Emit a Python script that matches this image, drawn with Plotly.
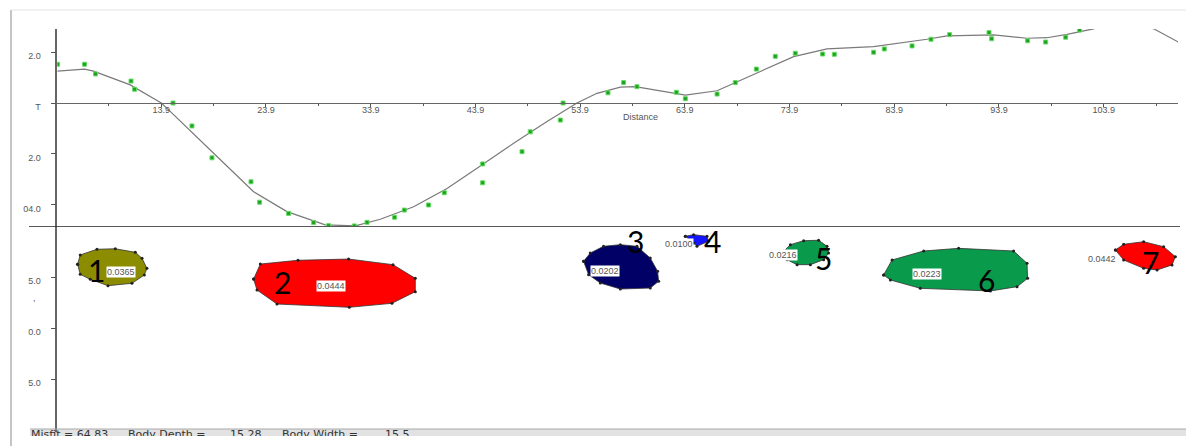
import plotly.graph_objects as go

# ---------------- data ----------------
obs_distance = [4.0, 6.57, 7.62, 11.01, 11.35, 15.02, 16.83, 18.74, 22.47, 23.29, 26.06, 28.45,
                29.88, 32.33, 33.55, 36.18, 37.11, 39.43, 40.93, 44.59, 44.59, 48.35, 49.14, 52.01,
                52.27, 56.56, 58.05, 59.33, 63.09, 63.95, 66.98, 68.72, 70.73, 72.54, 74.45, 77.06,
                78.18, 81.93, 82.95, 85.60, 87.41, 89.19, 92.95, 93.20, 96.64, 98.36, 100.27, 101.61]
obs_gravity = [1.52, 1.52, 1.14, 0.86, 0.54, 0.0, -0.90, -2.15, -3.09, -3.89, -4.33, -4.69,
               -4.81, -4.82, -4.68, -4.48, -4.20, -4.00, -3.52, -3.13, -2.39, -1.91, -1.13, -0.67,
               0.0, 0.40, 0.80, 0.64, 0.42, 0.17, 0.35, 0.80, 1.33, 1.83, 1.95, 1.92,
               1.91, 1.99, 2.12, 2.24, 2.50, 2.68, 2.76, 2.52, 2.44, 2.39, 2.58, 2.86]

calc_distance = [3.97, 6.57, 7.43, 10.94, 13.9, 14.60, 18.90, 22.72, 25.90, 29.56, 32.43, 34.82,
                 38.00, 41.19, 44.37, 47.55, 50.74, 53.60, 55.51, 57.74, 59.17, 63.95, 66.98, 68.72,
                 71.11, 74.29, 77.48, 81.93, 87.03, 88.94, 93.39, 96.58, 98.49, 100.40, 102.94,
                 105.78, 108.68, 111.16]
calc_gravity = [1.25, 1.33, 1.25, 0.71, 0.0, -0.27, -1.97, -3.48, -4.26, -4.78, -4.82, -4.56,
                -4.07, -3.35, -2.47, -1.58, -0.73, 0.0, 0.38, 0.62, 0.64, 0.31, 0.48, 0.80,
                1.25, 1.82, 2.12, 2.21, 2.50, 2.63, 2.67, 2.54, 2.56, 2.69, 2.91,
                3.25, 2.91, 2.36]

body_names = ["1", "2", "3", "4", "5", "6", "7"]
body_density = ["0.0365", "0.0444", "0.0202", "0.0100", "0.0216", "0.0223", "0.0442"]
body_distance = [
    [5.91, 6.16, 7.76, 9.51, 11.42, 12.06, 12.53, 12.28, 11.10, 8.81, 7.12, 6.16],
    [22.72, 23.36, 26.96, 31.79, 36.03, 38.16, 38.16, 35.93, 31.86, 24.95, 23.04],
    [54.23, 54.87, 56.14, 57.74, 59.33, 60.60, 61.30, 61.40, 60.60, 57.74, 55.83, 54.71],
    [63.95, 64.74, 66.02, 66.17, 65.06, 64.74],
    [73.34, 73.98, 75.25, 76.68, 77.48, 77.63, 77.16, 75.89, 74.62, 73.66],
    [82.89, 83.69, 86.71, 90.05, 95.30, 96.58, 96.64, 95.63, 93.08, 86.39, 83.53],
    [105.02, 105.81, 107.72, 109.63, 110.75, 110.43, 109.00, 107.72, 105.81],
]
body_depth = [
    [3.75, 2.84, 2.28, 2.23, 2.58, 3.17, 4.15, 4.80, 5.62, 5.85, 5.23, 4.74],
    [5.20, 3.73, 3.36, 3.24, 3.79, 5.13, 6.44, 7.58, 7.97, 7.65, 6.27],
    [3.46, 2.65, 1.99, 1.83, 1.99, 3.14, 4.44, 5.42, 6.08, 6.18, 5.59, 4.77],
    [1.01, 0.85, 1.01, 1.50, 1.99, 1.67],
    [2.48, 1.83, 1.44, 1.40, 1.99, 2.65, 3.30, 3.79, 3.79, 3.30],
    [4.80, 3.33, 2.45, 2.19, 2.45, 3.66, 5.13, 5.95, 6.37, 6.11, 5.29],
    [2.35, 1.79, 1.54, 2.03, 3.01, 3.82, 4.31, 4.15, 3.33],
]
# label anchor points (distance, depth)
name_pos_distance = [7.76, 25.43, 59.17, 66.50, 77.16, 92.70, 108.36]
name_pos_depth = [4.31, 5.46, 1.50, 1.50, 3.14, 5.29, 3.50]
dens_pos_distance = [10.05, 30.14, 56.31, 63.31, 73.28, 87.03, 103.75]
dens_pos_depth = [4.48, 5.85, 4.44, 1.74, 2.81, 4.74, 3.24]

x_tickvals = [13.9, 23.9, 33.9, 43.9, 53.9, 63.9, 73.9, 83.9, 93.9, 103.9]
x_ticktext = ["13.9", "23.9", "33.9", "43.9", "53.9", "63.9", "73.9", "83.9", "93.9", "103.9"]
x_minor = [8.9, 18.9, 28.9, 38.9, 48.9, 58.9, 68.9, 78.9, 88.9, 98.9, 108.9]
g_tickvals = [2.0, 0.0, -2.0, -4.0]
g_ticktext = ["2.0", "T", "2.0", "04.0"]
d_tickvals = [5.0, 10.0, 15.0]
d_ticktext = ["5.0", "0.0", "5.0"]

status_text = ["Misfit = 64.83", "Body Depth =", "15.28", "Body Width =", "15.5"]

# ---------------- styles ----------------
body_colors = ["#8c8c00", "#ff0000", "#000066", "#1414ff", "#0a9a4c", "#0a9a4c", "#ff0000"]
W, H = 1186, 446
TICKFONT = dict(family="Liberation Sans, Arial, sans-serif", size=9, color="#555555")

fig = go.Figure()

# bodies (lower panel)
for i in range(len(body_names)):
    fig.add_trace(go.Scatter(
        x=body_distance[i] + [body_distance[i][0]],
        y=body_depth[i] + [body_depth[i][0]],
        xaxis="x", yaxis="y2",
        mode="lines+markers", fill="toself", fillcolor=body_colors[i],
        line=dict(color="#333333", width=0.8),
        marker=dict(size=3, color="#222222"),
        hoverinfo="skip", showlegend=False,
    ))

# calculated gravity
fig.add_trace(go.Scatter(
    x=calc_distance, y=calc_gravity, xaxis="x", yaxis="y",
    mode="lines", line=dict(color="#7a7a7a", width=1.2),
    showlegend=False, hoverinfo="skip",
))
# observed gravity
fig.add_trace(go.Scatter(
    x=obs_distance, y=obs_gravity, xaxis="x", yaxis="y",
    mode="markers",
    marker=dict(symbol="square", size=4, color="#1f9f1f", line=dict(color="#66dd66", width=1)),
    showlegend=False, hoverinfo="skip", cliponaxis=True,
))

# status bar text (clipped by its own strip)
status_x = [31, 128, 230, 282, 385]
fig.add_trace(go.Scatter(
    x=status_x, y=[-435] * len(status_x), xaxis="x3", yaxis="y3",
    mode="text", text=status_text, textposition="middle right",
    textfont=dict(family="DejaVu Sans, sans-serif", size=11, color="#333333"),
    cliponaxis=True, showlegend=False, hoverinfo="skip",
))

# annotations
ann = []
for i in range(len(body_names)):
    ann.append(dict(x=name_pos_distance[i], y=name_pos_depth[i], xref="x", yref="y2",
                    text=body_names[i], showarrow=False,
                    font=dict(family="Lato, sans-serif", size=30, color="#000000")))
    ann.append(dict(x=dens_pos_distance[i], y=dens_pos_depth[i], xref="x", yref="y2",
                    text=body_density[i], showarrow=False, bgcolor="#ffffff", borderpad=0,
                    font=dict(family="Liberation Sans, Arial, sans-serif", size=9, color="#555555")))
ann.append(dict(x=59.65, y=-0.55, xref="x", yref="y", text="Distance", showarrow=False,
                font=TICKFONT))
ann.append(dict(x=31 / W, y=(H - 305) / H, xref="paper", yref="paper", text=",",
                showarrow=False, font=TICKFONT))

def py(p):
    return (H - p) / H

shapes = [
    # status bar background
    dict(type="rect", xref="paper", yref="paper", x0=30 / W, x1=1, y0=py(436), y1=py(429),
         fillcolor="#e2e2e2", line=dict(width=0), layer="below"),
    dict(type="line", xref="paper", yref="paper", x0=30 / W, x1=1, y0=py(429), y1=py(429),
         line=dict(color="#a8a8a8", width=1)),
    # white strip cutting the status bar text
    dict(type="rect", xref="paper", yref="paper", x0=13 / W, x1=1, y0=0, y1=py(436),
         fillcolor="#ffffff", line=dict(width=0), layer="above"),
    # outer frame (left and top)
    dict(type="line", xref="paper", yref="paper", x0=11 / W, x1=11 / W, y0=0, y1=py(10),
         line=dict(color="#c4c4c4", width=2)),
    dict(type="line", xref="paper", yref="paper", x0=11 / W, x1=1, y0=py(10), y1=py(10),
         line=dict(color="#e4e4e4", width=1)),
    # ground surface line
    dict(type="line", xref="paper", yref="y2", x0=29 / W, x1=1180 / W, y0=0, y1=0,
         line=dict(color="#222222", width=1.6)),
]

fig.update_layout(
    width=W, height=H,
    margin=dict(l=0, r=0, t=0, b=0),
    paper_bgcolor="#ffffff", plot_bgcolor="rgba(0,0,0,0)",
    showlegend=False,
    xaxis=dict(domain=[57.3 / W, 1178 / W], range=[3.97, 111.0],
               anchor="free", position=py(103),
               showgrid=False, zeroline=False, showline=True, linecolor="#666666", linewidth=1,
               tickmode="array", tickvals=x_tickvals, ticktext=x_ticktext,
               ticks="outside", ticklen=3, tickcolor="#555555", tickfont=TICKFONT,
               ticklabelstandoff=-5,
               minor=dict(tickmode="array", tickvals=x_minor, ticks="outside", ticklen=2,
                          tickcolor="#555555")),
    yaxis=dict(domain=[py(226), py(29)], range=[-4.824, 2.902], anchor="x",
               showgrid=False, zeroline=False, showline=True, linecolor="#666666", linewidth=1.5,
               tickmode="array", tickvals=g_tickvals, ticktext=g_ticktext,
               ticks="outside", ticklen=5, tickcolor="#555555", tickfont=TICKFONT,
               ticklabelstandoff=8, ticklabelshift=4),
    yaxis2=dict(domain=[py(432), py(226)], range=[20.196, 0], anchor="x",
                showgrid=False, zeroline=False, showline=True, linecolor="#666666", linewidth=1.5,
                tickmode="array", tickvals=d_tickvals, ticktext=d_ticktext,
                ticks="outside", ticklen=5, tickcolor="#555555", tickfont=TICKFONT,
                ticklabelstandoff=8, ticklabelshift=-4),
    xaxis3=dict(domain=[30 / W, 1], range=[30, W], anchor="y3", visible=False),
    yaxis3=dict(domain=[py(436), py(429)], range=[-436, -429], anchor="x3", visible=False),
    annotations=ann,
    shapes=shapes,
)

fig.write_html("out.html", config={"displayModeBar": False},
               post_script="document.body.style.margin='0';document.body.style.overflow='hidden';")
